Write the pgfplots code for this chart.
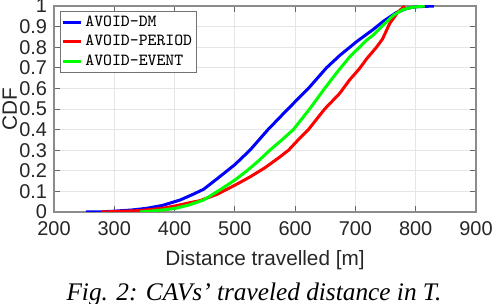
\documentclass[border=0pt]{standalone}
\usepackage{fontspec}
\setmainfont{Liberation Sans}
\newfontfamily\capfont{Liberation Serif}
\usepackage{pgfplots}
\pgfplotsset{compat=1.18}
\begin{document}
\begin{tikzpicture}
\useasboundingbox (-27bp,-46bp) rectangle (219bp,106bp);
\begin{axis}[
 scale only axis, width=211bp, height=103bp,
 xmin=200, xmax=900, ymin=0, ymax=1,
 xtick={200,300,400,500,600,700,800,900},
 ytick={0,0.1,0.2,0.3,0.4,0.5,0.6,0.7,0.8,0.9,1},
 grid=major, grid style={black!10, line width=0.5pt},
 axis line style={black!45, line width=0.7pt},
 tick style={black!60, line width=0.5pt},
 tick align=inside, major tick length=3bp,
 ticklabel style={font=\fontsize{10}{11}\selectfont, text=black!85},
 xticklabel style={yshift=-1.5bp},
 /pgf/number format/assume math mode=true,
 yticklabel style={/pgf/number format/fixed, /pgf/number format/precision=1},
 xlabel={Distance travelled [m]}, ylabel={CDF},
 label style={font=\fontsize{10.4}{12}\selectfont, text=black!85},
 xlabel style={at={(axis description cs:0.5,-0.232)}, anchor=center},
 ylabel style={at={(axis description cs:-0.105,0.5)}, anchor=center},
 legend style={at={(axis description cs:0.014,0.976)}, anchor=north west,
   font=\ttfamily\addfontfeature{FakeBold=1.2}\fontsize{8.5}{10}\selectfont, draw=black!55, fill=white,
   inner sep=0.5bp, row sep=0bp, line width=0.5pt, nodes={inner sep=1.5bp}},
 legend cell align=left,
 legend image code/.code={\draw[#1] (0bp,0bp) -- (9bp,0bp);},
]
\addplot[color={rgb,255:red,0;green,0;blue,255}, line width=1.5bp] table {
253 0
280 0.001
300 0.004
330 0.01
354 0.018
380 0.032
409 0.058
430 0.085
448 0.11
470 0.16
500 0.23
525 0.30
555 0.40
588 0.50
622 0.60
652 0.70
674 0.76
702 0.827
729 0.885
746 0.925
768 0.968
785 0.988
800 0.996
830 1
};
\addlegendentry{AVOID-DM}
\addplot[color={rgb,255:red,255;green,0;blue,0}, line width=1.5bp] table {
279 0
300 0.002
343 0.007
380 0.018
402 0.03
425 0.045
442 0.055
470 0.085
500 0.13
525 0.17
550 0.215
575 0.268
589 0.30
605 0.35
622 0.40
649 0.50
674 0.576
690 0.64
707 0.697
719 0.745
735 0.80
745 0.84
757 0.916
771 0.972
782 1
};
\addlegendentry{AVOID-PERIOD}
\addplot[color={rgb,255:red,0;green,255;blue,0}, line width=1.5bp] table {
343 0
360 0.004
381 0.01
402 0.018
425 0.035
448 0.058
475 0.107
500 0.155
520 0.20
540 0.25
558 0.30
578 0.35
597 0.40
624 0.50
649 0.60
670 0.68
691 0.755
719 0.835
730 0.86
741 0.893
763 0.955
779 0.983
795 0.994
815 1
};
\addlegendentry{AVOID-EVENT}
\end{axis}
\node[font=\capfont\itshape\fontsize{12.7}{14}\selectfont, text=black, anchor=base, inner sep=0pt] at (100bp,-44bp) {Fig. 2: CAVs’ traveled distance in \textit{T}.};
\end{tikzpicture}
\end{document}
